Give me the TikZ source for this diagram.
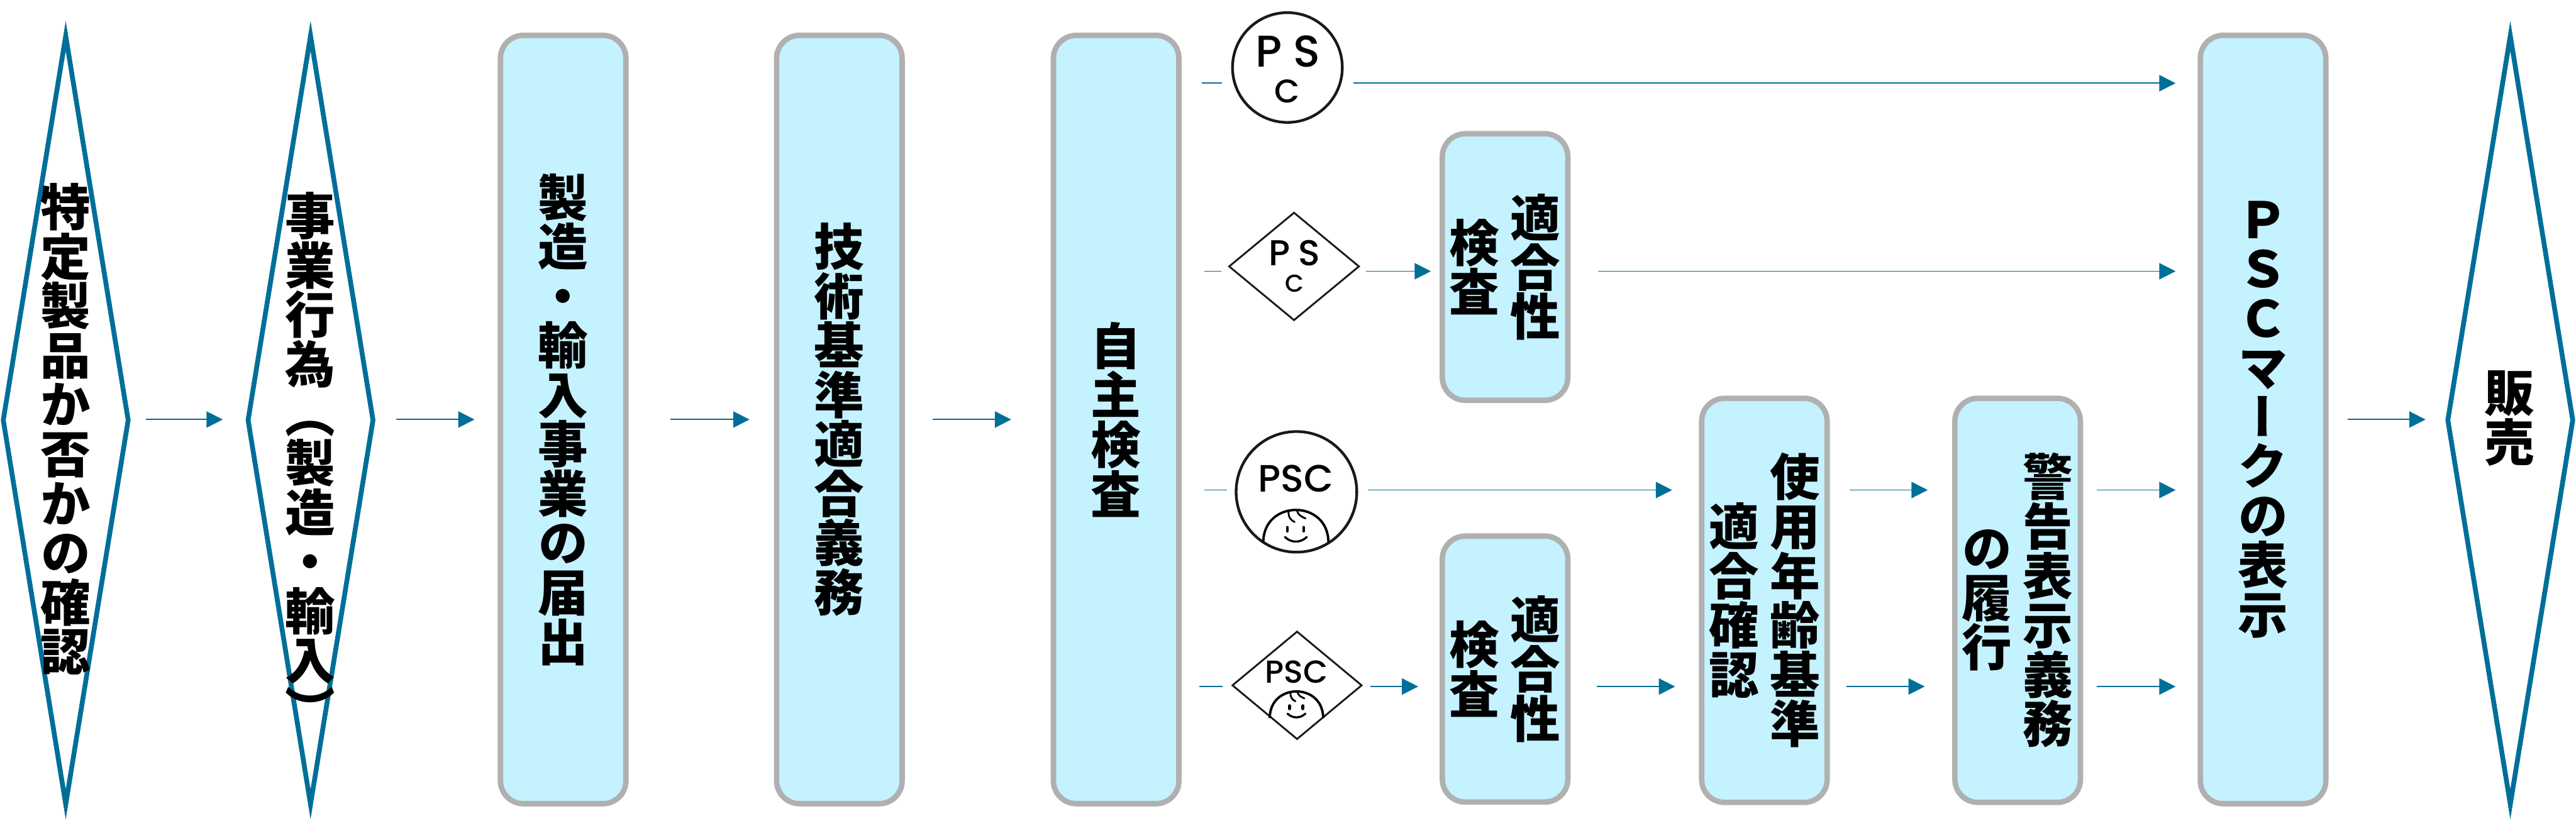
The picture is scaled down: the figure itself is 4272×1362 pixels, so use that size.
\documentclass[tikz,border=0pt]{standalone}
\usepackage{fontspec}
\usetikzlibrary{arrows.meta,shapes.geometric}
\newfontfamily\cjk{Noto Sans CJK JP}[RawFeature={+vert}]
\newfontfamily\markfont{Poppins Medium}
\XeTeXlinebreaklocale "ja"
\XeTeXlinebreakskip=0pt plus 1pt
\definecolor{flowblue}{HTML}{006F98}
\definecolor{boxfill}{HTML}{C4F2FF}
\definecolor{boxline}{HTML}{B0B0B0}
\newcommand{\tate}[1]{\parbox[c]{1.02em}{\centering\lineskiplimit=-2em #1}}
\tikzset{
  stagebox/.style={draw=boxline, fill=boxfill, line width=0.09cm, rounded corners=0.38cm,
    inner sep=0pt, outer sep=0pt, minimum width=2.08cm, font=\cjk\bfseries\fontsize{23.6}{23.3}\selectfont},
  gate/.style={diamond, draw=flowblue, line width=0.08cm, miter limit=25, inner sep=0pt, outer sep=0pt,
    minimum width=2.07cm, minimum height=12.74cm},
  gatetext/.style={inner sep=0pt, font=\cjk\bfseries\fontsize{23.6}{23.3}\selectfont},
  flow/.style={draw=flowblue, line width=0.02cm},
  flowhead/.style={flow, -{Triangle[length=0.27cm, width=0.27cm]}},
  gap/.style 2 args={shorten <=#1*0.01cm, shorten >=#2*0.01cm},
  markround/.style={circle, draw=black!90, line width=0.045cm, inner sep=0pt, outer sep=0pt},
  markdiamond/.style={diamond, draw=black!90, line width=0.03cm, inner sep=0pt, outer sep=0pt,
    minimum width=2.15cm, minimum height=1.78cm},
  marktext/.style={inner sep=0pt, font=\markfont\fontsize{#1}{#1}\selectfont},
  face/.pic={
    \draw[line width=0.04cm] (-54,9) .. controls (-54,-63) and (54,-63) .. (54,9);
    \draw[line width=0.035cm, line cap=round] (-18,0) .. controls (-8,10) and (8,10) .. (18,0);
    \draw[line width=0.05cm, line cap=round] (-14,-16) -- (-14,-10) (13,-16) -- (13,-10);
    \draw[line width=0.03cm, line cap=round] (-12,-44) .. controls (-13,-32) and (-8,-28) .. (-2,-25);
    \draw[line width=0.03cm, line cap=round] (2,-44) .. controls (3,-38) and (8,-34) .. (16,-31);
  }
}
\begin{document}
\begin{tikzpicture}[x=0.01cm, y=-0.01cm]
  \useasboundingbox (0,0) rectangle (4272,1362);
  % rows of the flow
  \coordinate (RowM) at (0,696);
  \coordinate (RowA) at (0,138);
  \coordinate (RowB) at (0,450);
  \coordinate (RowC) at (0,813);
  \coordinate (RowD) at (0,1139);
  % gates
  \node[gate] (Seihin) at (109,697) {};
  \node[gate] (Jigyo) at (515,697) {};
  \node[gate] (Hanbai) at (4163,697) {};
  \node[gatetext] (SeihinText) at (109,712) {\tate{特定製品か否かの確認}};
  \node[gatetext] (JigyoText) at (515,764) {\tate{事業行為（\allowbreak{}製造\allowbreak{}・\allowbreak{}輸入\allowbreak{}）}};
  \node[gatetext] (HanbaiText) at (4162,694) {\tate{販売}};
  % stage boxes
  \node[stagebox, minimum height=12.74cm] (Todoke) at (934,696) {\tate{製造\allowbreak{}・\allowbreak{}輸入事業の届出}};
  \node[stagebox, minimum height=12.74cm] (Gimu) at (1392,696) {\tate{技術基準適合義務}};
  \node[stagebox, minimum height=12.74cm] (Kensa) at (1851,696) {\tate{自主検査}};
  \node[stagebox, minimum height=12.74cm] (Hyoji) at (3753,696) {\tate{ＰＳＣマ\allowbreak{}ー\allowbreak{}クの表示}};
  \node[stagebox, minimum height=4.42cm] (TekiA) at (2496,443) {\tate{検査}\hspace{0.2em}\tate{適合性}};
  \node[stagebox, minimum height=4.41cm] (TekiB) at (2496,1110) {\tate{検査}\hspace{0.2em}\tate{適合性}};
  \node[stagebox, minimum height=6.7cm] (Nenrei) at (2926,996) {\tate{適合確認}\hspace{0.2em}\tate{使用年齢基準}};
  \node[stagebox, minimum height=6.7cm] (Keikoku) at (3346,996) {\tate{の履行}\hspace{0.2em}\tate{警告表示義務}};
  % marks
  \node[markround, minimum size=1.82cm] (PscA) at (2135,112) {};
  \node[marktext=21] (PscAp) at (2104,85) {P};
  \node[marktext=21] (PscAs) at (2167,85) {S};
  \node[marktext=15.5] (PscAc) at (2135,151) {C};
  \node[markdiamond] (PscB) at (2146,442) {};
  \node[marktext=17] (PscBp) at (2122,420) {P};
  \node[marktext=17] (PscBs) at (2171,420) {S};
  \node[marktext=11.5] (PscBc) at (2147,470) {C};
  \node[markround, minimum size=2cm] (PscC) at (2150,816) {};
  \node[marktext=18] (PscCt) at (2149,794) {PSC};
  \pic at (2149,891) {face};
  \node[markdiamond, minimum height=1.78cm, minimum width=2.14cm] (PscD) at (2151,1137) {};
  \node[marktext=15] (PscDt) at (2150,1115) {PSC};
  \pic[scale=0.82] at (2150,1184) {face};
  % main row
  \draw[flowhead, gap={29}{42}] (Seihin.east |- RowM) -- (Jigyo.west |- RowM);
  \draw[flowhead, gap={39}{43}] (Jigyo.east |- RowM) -- (Todoke.west |- RowM);
  \draw[flowhead, gap={74}{45}] (Todoke.east |- RowM) -- (Gimu.west |- RowM);
  \draw[flowhead, gap={51}{70}] (Gimu.east |- RowM) -- (Kensa.west |- RowM);
  \draw[flowhead, gap={36}{37}] (Hyoji.east |- RowM) -- (Hanbai.west |- RowM);
  % row A
  \draw[flow, gap={38}{17}] (Kensa.east |- RowA) -- (PscA.west |- RowA);
  \draw[flowhead, gap={18}{41}] (PscA.east |- RowA) -- (Hyoji.west |- RowA);
  % row B
  \draw[flow, gap={42}{13}] (Kensa.east |- RowB) -- (PscB.west |- RowB);
  \draw[flowhead, gap={12}{19}] (PscB.east |- RowB) -- (TekiA.west |- RowB);
  \draw[flowhead, gap={50}{41}] (TekiA.east |- RowB) -- (Hyoji.west |- RowB);
  % row C
  \draw[flow, gap={42}{15}] (Kensa.east |- RowC) -- (PscC.west |- RowC);
  \draw[flowhead, gap={18}{49}] (PscC.east |- RowC) -- (Nenrei.west |- RowC);
  \draw[flowhead, gap={37}{45}] (Nenrei.east |- RowC) -- (Keikoku.west |- RowC);
  \draw[flowhead, gap={27}{41}] (Keikoku.east |- RowC) -- (Hyoji.west |- RowC);
  % row D
  \draw[flow, gap={34}{16}] (Kensa.east |- RowD) -- (PscD.west |- RowD);
  \draw[flowhead, gap={15}{40}] (PscD.east |- RowD) -- (TekiB.west |- RowD);
  \draw[flowhead, gap={48}{44}] (TekiB.east |- RowD) -- (Nenrei.west |- RowD);
  \draw[flowhead, gap={32}{50}] (Nenrei.east |- RowD) -- (Keikoku.west |- RowD);
  \draw[flowhead, gap={27}{41}] (Keikoku.east |- RowD) -- (Hyoji.west |- RowD);
\end{tikzpicture}
\end{document}
